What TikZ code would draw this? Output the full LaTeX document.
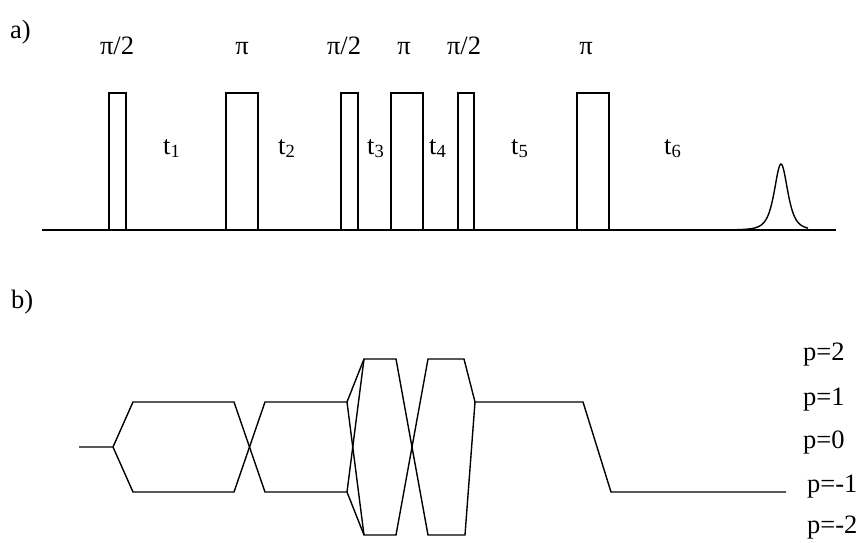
\documentclass[tikz,border=0pt]{standalone}
\usepackage{fontspec}
\setmainfont{Liberation Serif}
\tikzset{
  lbl/.style={font=\fontsize{26.5}{31}\selectfont, inner sep=0pt},
  pulsebox/.style={draw, line width=1.1pt},
  axisline/.style={line width=1.4pt},
  cpath/.style={line width=1.4pt, line join=miter},
}

\begin{document}
\begin{tikzpicture}[x=1pt, y=-1pt]
  \useasboundingbox (0,0) rectangle (864,543);

  % Panel labels
  \node[lbl, anchor=base west] (pa) at (10,38) {a)};
  \node[lbl, anchor=base west] (pb) at (11,308) {b)};

  % Pulse sequence
  \draw[axisline] (42,230) -- (836,230);
  \draw[pulsebox] (109,230) rectangle (126,93);
  \draw[pulsebox] (226,230) rectangle (258,93);
  \draw[pulsebox] (341,230) rectangle (358,93);
  \draw[pulsebox] (391,230) rectangle (423,93);
  \draw[pulsebox] (458,230) rectangle (474,93);
  \draw[pulsebox] (577,230) rectangle (609,93);
  % Echo
  \draw[axisline] plot[domain=-44:27, samples=90, smooth]
    ({781+\x},{230-66/(1+(\x/12.2)^2)^2});

  % Flip angles
  \node[lbl, anchor=base] (f1) at (117,55) {π/2};
  \node[lbl, anchor=base] (f2) at (242,55) {π};
  \node[lbl, anchor=base] (f3) at (344,55) {π/2};
  \node[lbl, anchor=base] (f4) at (404,55) {π};
  \node[lbl, anchor=base] (f5) at (464,55) {π/2};
  \node[lbl, anchor=base] (f6) at (586,55) {π};

  % Delays
  \node[lbl, anchor=base west] (t1) at (163,154) {t\textsubscript{1}};
  \node[lbl, anchor=base west] (t2) at (278,154) {t\textsubscript{2}};
  \node[lbl, anchor=base west] (t3) at (367,154) {t\textsubscript{3}};
  \node[lbl, anchor=base west] (t4) at (429,154) {t\textsubscript{4}};
  \node[lbl, anchor=base west] (t5) at (511,154) {t\textsubscript{5}};
  \node[lbl, anchor=base west] (t6) at (664,154) {t\textsubscript{6}};

  % Coherence transfer pathways
  \draw[cpath] (79,447) -- (113,447) -- (133,402) -- (234,402) -- (265,492)
    -- (347,492) -- (364,535) -- (396,535) -- (428,359) -- (464,359)
    -- (475,402) -- (583,402) -- (611,492) -- (786,492);
  \draw[cpath] (113,447) -- (133,492) -- (234,492) -- (265,402) -- (347,402)
    -- (364,359) -- (396,359) -- (428,535) -- (465,535) -- (475,402);
  \draw[cpath] (347,402) -- (364,535);
  \draw[cpath] (347,492) -- (364,359);

  % Coherence orders
  \node[lbl, anchor=base west] (p2) at (803,360) {p=2};
  \node[lbl, anchor=base west] (p1) at (803,405) {p=1};
  \node[lbl, anchor=base west] (p0) at (803,448) {p=0};
  \node[lbl, anchor=base west] (pm1) at (807,492) {p=-1};
  \node[lbl, anchor=base west] (pm2) at (807,533) {p=-2};
\end{tikzpicture}
\end{document}
